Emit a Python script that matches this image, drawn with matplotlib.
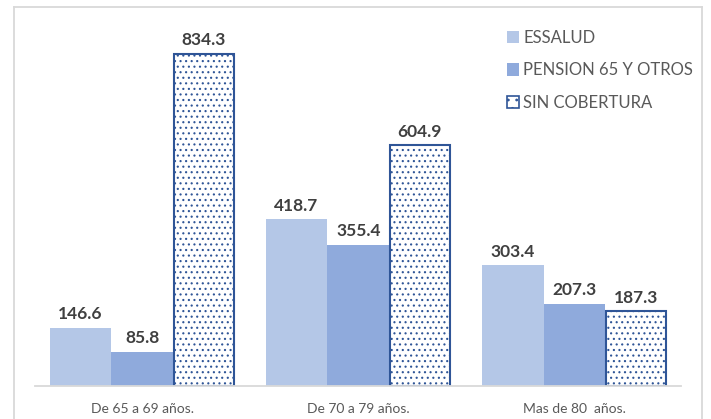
import matplotlib
matplotlib.use("Agg")
import matplotlib.pyplot as plt
from matplotlib.lines import Line2D
from matplotlib.patches import Patch
import numpy as np

categories = ["De 65 a 69 años.", "De 70 a 79 años.", "Mas de 80  años."]
series_names = ["ESSALUD", "PENSION 65 Y OTROS", "SIN COBERTURA"]
essalud = [146.6, 418.7, 303.4]
pension = [85.8, 355.4, 207.3]
sin_cob = [834.3, 604.9, 187.3]

plt.rcParams['font.family'] = ['Lato', 'DejaVu Sans']
plt.rcParams['hatch.color'] = '#4a6aae'
plt.rcParams['hatch.linewidth'] = 0.8

W, H = 711, 419
fig = plt.figure(figsize=(W/100, H/100), dpi=100)
ax = fig.add_axes([35/W, (H-386)/H, 646/W, 378/H])

x = np.arange(len(categories))
bw = 0.285
b1 = ax.bar(x - bw, essalud, bw, color='#b4c7e7', edgecolor='none')
b2 = ax.bar(x, pension, bw, color='#8faadc', edgecolor='none')
b3 = ax.bar(x + bw, sin_cob, bw*0.97, color='white', edgecolor='#2f5597',
            linewidth=1.5, hatch='...')

for bars, vals in [(b1, essalud), (b2, pension), (b3, sin_cob)]:
    for r, v in zip(bars, vals):
        ax.text(r.get_x() + r.get_width()/2, v + 14, f"{v:.1f}", ha='center', va='bottom',
                fontsize=12.5, fontweight='bold', color='#404040')

ax.set_xlim(-0.495, 2.493)
ax.set_ylim(0, 950)
ax.set_yticks([])
ax.set_xticks(x)
ax.set_xticklabels(categories, fontsize=10, color='#595959')
ax.tick_params(axis='x', length=0, pad=12)
for s in ['top', 'right', 'left']:
    ax.spines[s].set_visible(False)
ax.spines['bottom'].set_color('#d9d9d9')
ax.spines['bottom'].set_linewidth(1.3)

handles = [Patch(facecolor='#b4c7e7', edgecolor='none'),
           Patch(facecolor='#8faadc', edgecolor='none'),
           Patch(facecolor='white', edgecolor='#2f5597', hatch='..', linewidth=1.2)]
leg = ax.legend(handles, series_names, loc='upper left', bbox_to_anchor=(460/646, 1 - 10/378),
                frameon=False, fontsize=12, handlelength=0.75, handleheight=0.75,
                handletextpad=0.25, labelspacing=1.0, borderaxespad=0.3)
for t in leg.get_texts():
    t.set_color('#595959')

# outer chart frame
fc = '#d9d9d9'
fig.add_artist(Line2D([13.5/W, 13.5/W], [0, 1-7.5/H], transform=fig.transFigure, color=fc, lw=1.3))
fig.add_artist(Line2D([13.5/W, 702/W], [1-7.5/H, 1-7.5/H], transform=fig.transFigure, color=fc, lw=1.3))
fig.add_artist(Line2D([702/W, 702/W], [0, 1-7.5/H], transform=fig.transFigure, color=fc, lw=1.3))

fig.savefig("out.png", dpi=100)
